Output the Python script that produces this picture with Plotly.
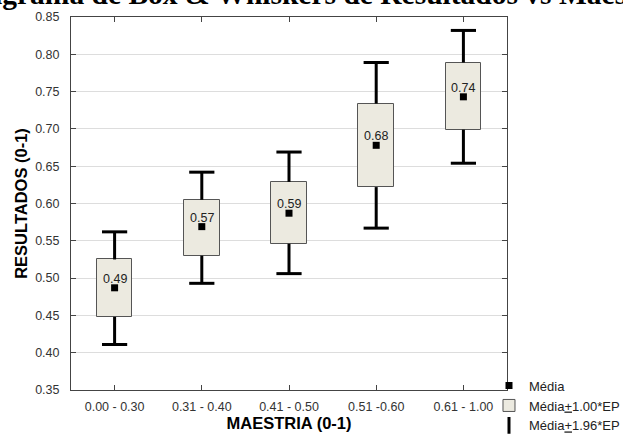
import plotly.graph_objects as go

categories = ["0.00 - 0.30", "0.31 - 0.40", "0.41 - 0.50", "0.51 -0.60", "0.61 - 1.00"]
mean = [0.487, 0.569, 0.587, 0.678, 0.743]
box_low = [0.448, 0.530, 0.546, 0.622, 0.699]
box_high = [0.525, 0.605, 0.629, 0.734, 0.789]
whisk_low = [0.411, 0.493, 0.506, 0.567, 0.654]
whisk_high = [0.562, 0.642, 0.669, 0.789, 0.832]
mean_labels = ["0.49", "0.57", "0.59", "0.68", "0.74"]

FONT = "Liberation Sans, Arial, sans-serif"
BOX_FILL = "#ECEAE0"

fig = go.Figure()

# boxes (mean ± 1.00*EP)
fig.add_trace(go.Bar(
    x=categories,
    y=[h - l for h, l in zip(box_high, box_low)],
    base=box_low,
    width=0.41,
    marker=dict(color=BOX_FILL, line=dict(color="#555555", width=1)),
    name="Média<u>+</u>1.00*EP",
    legendrank=2,
    hoverinfo="skip",
))

# whisker lines (outside the box)
wx, wy = [], []
for c, bl, bh, wl, wh in zip(categories, box_low, box_high, whisk_low, whisk_high):
    wx += [c, c, None, c, c, None]
    wy += [bh, wh, None, bl, wl, None]
fig.add_trace(go.Scatter(
    x=wx, y=wy, mode="lines",
    line=dict(color="black", width=3),
    showlegend=False, hoverinfo="skip",
))

# whisker caps
fig.add_trace(go.Scatter(
    x=categories + categories,
    y=whisk_high + whisk_low,
    mode="markers",
    marker=dict(symbol="line-ew", size=18, line=dict(color="black", width=3)),
    showlegend=False, hoverinfo="skip",
))

# legend entry for whiskers
fig.add_trace(go.Scatter(
    x=[None], y=[None], mode="markers",
    marker=dict(symbol="line-ns", size=12, line=dict(color="black", width=3)),
    name="Média<u>+</u>1.96*EP",
    legendrank=3,
))

# mean markers
fig.add_trace(go.Scatter(
    x=categories, y=mean, mode="markers",
    marker=dict(symbol="square", size=7, color="black"),
    name="Média",
    legendrank=1,
))

# mean labels
for c, m, lab in zip(categories, mean, mean_labels):
    fig.add_annotation(
        x=c, y=m, text=lab, showarrow=False,
        xanchor="center", yanchor="bottom", yshift=0,
        font=dict(family=FONT, size=12.5, color="#222222"),
    )

fig.add_annotation(
    text="<b>Diagrama de Box & Whiskers de Resultados vs Maestria</b>",
    xref="paper", yref="paper", x=0.56, y=1.0, yshift=5,
    xanchor="center", yanchor="bottom", showarrow=False,
    font=dict(family="Liberation Serif, Times New Roman, serif", size=29.5, color="black"),
)

fig.update_layout(
    width=623, height=435,
    margin=dict(l=71, r=116, t=17, b=45, autoexpand=False),
    paper_bgcolor="white", plot_bgcolor="white",
    font=dict(family=FONT, size=12.5, color="#333333"),
    showlegend=True,
    legend=dict(
        x=0.9587, y=0.052, xanchor="left", yanchor="top",
        font=dict(family=FONT, size=13, color="#222222"),
        bgcolor="rgba(0,0,0,0)", borderwidth=0,
        traceorder="normal",
    ),
    bargap=0,
)

fig.update_xaxes(
    type="category", categoryorder="array", categoryarray=categories,
    range=[-0.5, 4.5],
    showline=True, mirror="ticks", linecolor="#444444", linewidth=1,
    ticks="inside", ticklen=5, tickcolor="#444444",
    showgrid=False,
    tickfont=dict(family=FONT, size=12.5, color="#333333"),
    ticklabelstandoff=5,
    automargin=False,
    title=dict(text="<b>MAESTRIA (0-1)</b>", font=dict(family=FONT, size=16.5, color="black"), standoff=3),
)
fig.update_yaxes(
    range=[0.35, 0.85], dtick=0.05, tick0=0.35, tickformat=".2f",
    showline=True, mirror="ticks", linecolor="#444444", linewidth=1,
    ticks="inside", ticklen=5, tickcolor="#444444",
    showgrid=True, gridcolor="#DDDDDD", gridwidth=1,
    zeroline=False,
    tickfont=dict(family=FONT, size=12.5, color="#333333"),
    ticklabelstandoff=8,
    automargin=False,
    title=dict(text="<b>RESULTADOS (0-1)</b>", font=dict(family=FONT, size=16.5, color="black"), standoff=3),
)

fig.write_html(
    "out.html",
    config={"displayModeBar": False},
    post_script="document.body.style.margin='0';",
)
